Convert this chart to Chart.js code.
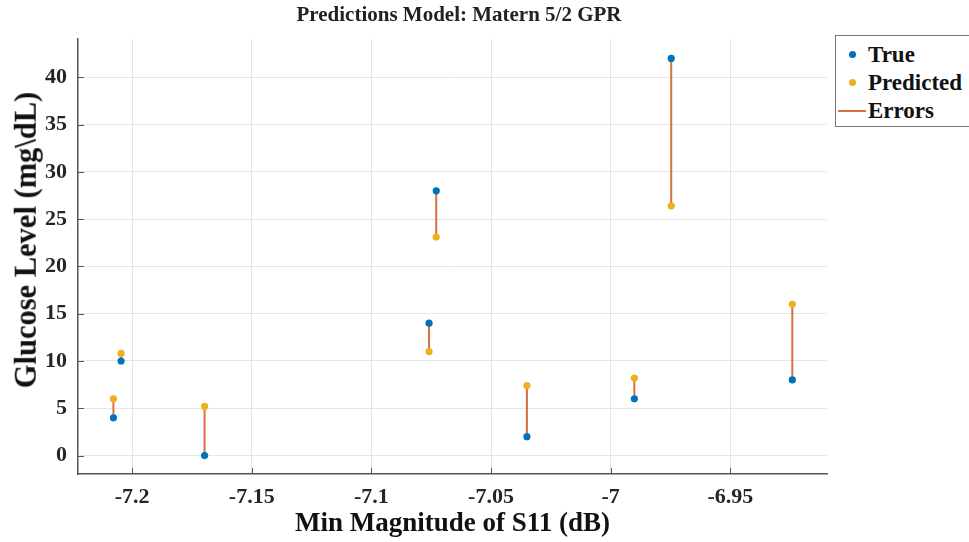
<!DOCTYPE html>
<html>
<head>
<meta charset="utf-8">
<script src="https://cdn.jsdelivr.net/npm/chart.js@4/dist/chart.umd.min.js"></script>
<style>
  html, body { margin: 0; padding: 0; background: #fff; }
  #wrap { position: relative; width: 969px; height: 542px; overflow: hidden; }
  #title { position: absolute; left: 0; width: 918px; top: 2px; text-align: center;
           font: bold 21px "Liberation Serif", "Times New Roman", serif; color: #222; }
  #ylabel { position: absolute; left: 26px; top: 240px; white-space: nowrap;
            transform: translate(-50%, -50%) rotate(-90deg);
            font: bold 30.5px "Liberation Serif", "Times New Roman", serif; color: #111; line-height: 1; }
  #legend { position: absolute; left: 835px; top: 35px; width: 140px; height: 92px;
            border: 1px solid #777; background: #fff; box-sizing: border-box;
            font: bold 23px "Liberation Serif", "Times New Roman", serif; color: #111; }
  .li { position: absolute; left: 0; height: 28px; line-height: 28px; }
  .li span.t { position: absolute; left: 32px; white-space: nowrap; }
  .dot { position: absolute; left: 13px; top: 10px; width: 7px; height: 7px; border-radius: 50%; }
  .ln { position: absolute; left: 2px; top: 13px; width: 28px; height: 2px; }
</style>
</head>
<body>
<div id="wrap">
  <canvas id="c" width="969" height="542"></canvas>
  <div id="title">Predictions Model: Matern 5/2 GPR</div>
  <div id="ylabel">Glucose Level (mg\dL)</div>
  <div id="legend">
    <div class="li" style="top:5px"><div class="dot" style="background:#0072BD"></div><span class="t">True</span></div>
    <div class="li" style="top:33px"><div class="dot" style="background:#EDB120"></div><span class="t">Predicted</span></div>
    <div class="li" style="top:61px"><div class="ln" style="background:#D8703F"></div><span class="t">Errors</span></div>
  </div>
</div>
<script>
// ---- data ----
const xValues   = [-7.2078, -7.2046, -7.1697, -7.0759, -7.0729, -7.0350, -6.9901, -6.9747, -6.9241];
const trueVals  = [4, 10, 0, 14, 28, 2, 6, 42, 8];
const predVals  = [6.0, 10.8, 5.2, 11.0, 23.1, 7.4, 8.2, 26.4, 16.0];
const xTicks      = [-7.2, -7.15, -7.1, -7.05, -7, -6.95];
const xTickLabels = ['-7.2', '-7.15', '-7.1', '-7.05', '-7', '-6.95'];
const yTicks      = [0, 5, 10, 15, 20, 25, 30, 35, 40];
const yTickLabels = ['0', '5', '10', '15', '20', '25', '30', '35', '40'];

const truePts = xValues.map((x, i) => ({x: x, y: trueVals[i]}));
const predPts = xValues.map((x, i) => ({x: x, y: predVals[i]}));
const errPts = [];
xValues.forEach((x, i) => {
  errPts.push({x: x, y: trueVals[i]});
  errPts.push({x: x, y: predVals[i]});
  errPts.push({x: x, y: null});
});

const SERIF = '"Liberation Serif", "Times New Roman", serif';
const AXIS = '#555555';

const insideTicks = {
  id: 'insideTicks',
  afterDraw(chart) {
    const {ctx, chartArea, scales} = chart;
    ctx.save();
    ctx.strokeStyle = AXIS;
    ctx.lineWidth = 1;
    ctx.beginPath();
    xTicks.forEach(v => {
      const px = Math.round(scales.x.getPixelForValue(v)) + 0.5;
      ctx.moveTo(px, chartArea.bottom);
      ctx.lineTo(px, chartArea.bottom - 6);
    });
    yTicks.forEach(v => {
      const py = Math.round(scales.y.getPixelForValue(v)) + 0.5;
      ctx.moveTo(chartArea.left, py);
      ctx.lineTo(chartArea.left + 6, py);
    });
    ctx.stroke();
    ctx.restore();
  }
};

new Chart(document.getElementById('c'), {
  type: 'scatter',
  data: {
    datasets: [
      { label: 'True', data: truePts, backgroundColor: '#0072BD', borderWidth: 0,
        pointRadius: 3.6, pointHoverRadius: 3.6, order: 1 },
      { label: 'Predicted', data: predPts, backgroundColor: '#EDB120', borderWidth: 0,
        pointRadius: 3.6, pointHoverRadius: 3.6, order: 2 },
      { label: 'Errors', type: 'line', data: errPts, borderColor: '#D8703F', borderWidth: 2,
        pointRadius: 0, spanGaps: false, showLine: true, fill: false, order: 3 }
    ]
  },
  options: {
    responsive: false,
    animation: false,
    events: [],
    layout: { padding: { top: 39, right: 142, left: 0, bottom: 0 } },
    plugins: { legend: { display: false }, title: { display: false }, tooltip: { enabled: false } },
    scales: {
      x: {
        type: 'linear', min: -7.2226, max: -6.9096,
        afterFit(s) { s.height = 68; },
        afterBuildTicks(s) { s.ticks = xTicks.map(v => ({value: v})); },
        grid: { color: '#e6e6e6', drawTicks: false, lineWidth: 1 },
        border: { display: true, color: AXIS, width: 1.5 },
        ticks: { padding: 10, color: '#262626', maxRotation: 0, autoSkip: false,
                 font: { family: SERIF, size: 22, weight: 'bold' },
                 callback: (v) => { const i = xTicks.findIndex(t => Math.abs(t - v) < 1e-9); return i >= 0 ? xTickLabels[i] : ''; } },
        title: { display: true, text: 'Min Magnitude of S11 (dB)', color: '#111',
                 font: { family: SERIF, size: 27, weight: 'bold' }, padding: { top: 0, bottom: 2 } }
      },
      y: {
        type: 'linear', min: -1.95, max: 44.05,
        afterFit(s) { s.width = 78; },
        afterBuildTicks(s) { s.ticks = yTicks.map(v => ({value: v})); },
        grid: { color: '#e6e6e6', drawTicks: false, lineWidth: 1 },
        border: { display: true, color: AXIS, width: 1.5 },
        ticks: { padding: 11, color: '#262626', autoSkip: false,
                 font: { family: SERIF, size: 22, weight: 'bold' },
                 callback: (v) => { const i = yTicks.indexOf(v); return i >= 0 ? yTickLabels[i] : ''; } },
        title: { display: false }
      }
    }
  },
  plugins: [insideTicks]
});
</script>
</body>
</html>
